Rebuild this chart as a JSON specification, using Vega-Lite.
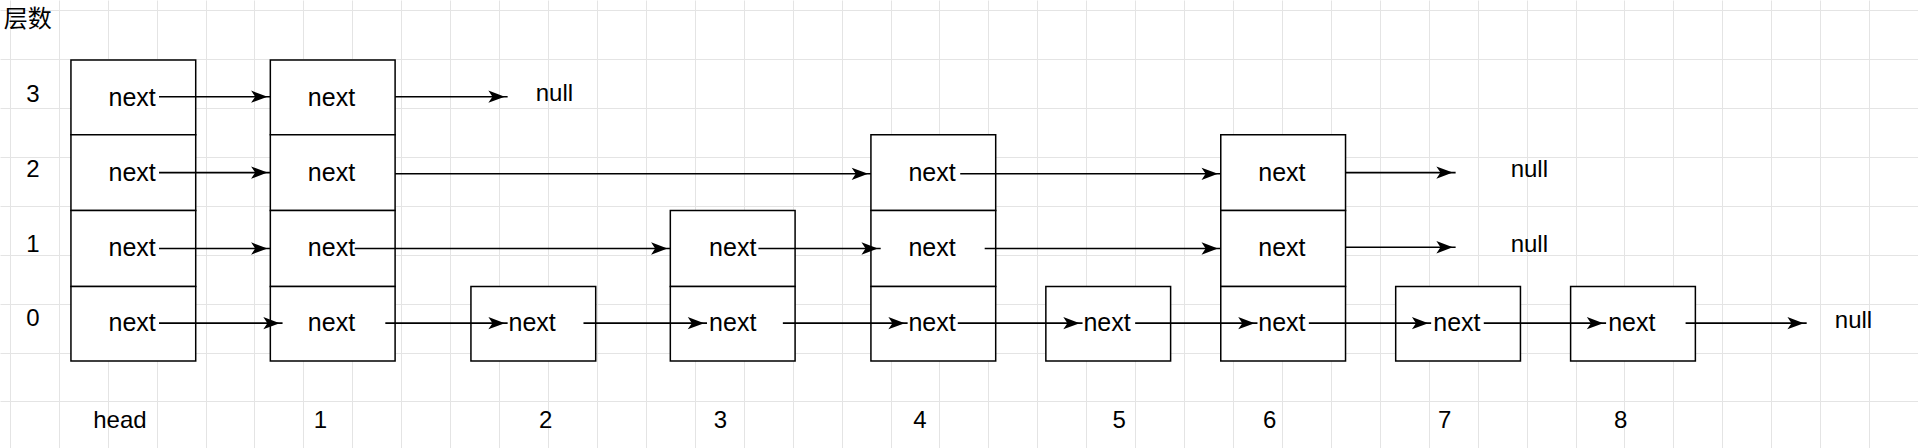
{
  "$schema": "https://vega.github.io/schema/vega-lite/v6.json",
  "width": 1918,
  "height": 448,
  "padding": 0,
  "autosize": {"type": "none"},
  "background": "white",
  "config": {"view": {"stroke": null}},
  "datasets": {
    "boxes": [
      {"x": 58, "x2": 160, "y": 49, "y2": 110, "cx": 108, "cy": 80},
      {"x": 58, "x2": 160, "y": 110, "y2": 172, "cx": 108, "cy": 141},
      {"x": 58, "x2": 160, "y": 172, "y2": 234, "cx": 108, "cy": 203},
      {"x": 58, "x2": 160, "y": 234, "y2": 295, "cx": 108, "cy": 264},
      {"x": 221, "x2": 323, "y": 49, "y2": 110, "cx": 271, "cy": 80},
      {"x": 221, "x2": 323, "y": 110, "y2": 172, "cx": 271, "cy": 141},
      {"x": 221, "x2": 323, "y": 172, "y2": 234, "cx": 271, "cy": 203},
      {"x": 221, "x2": 323, "y": 234, "y2": 295, "cx": 271, "cy": 264},
      {"x": 385, "x2": 487, "y": 234, "y2": 295, "cx": 435, "cy": 264},
      {"x": 548, "x2": 650, "y": 172, "y2": 234, "cx": 599, "cy": 203},
      {"x": 548, "x2": 650, "y": 234, "y2": 295, "cx": 599, "cy": 264},
      {"x": 712, "x2": 814, "y": 110, "y2": 172, "cx": 762, "cy": 141},
      {"x": 712, "x2": 814, "y": 172, "y2": 234, "cx": 762, "cy": 203},
      {"x": 712, "x2": 814, "y": 234, "y2": 295, "cx": 762, "cy": 264},
      {"x": 855, "x2": 957, "y": 234, "y2": 295, "cx": 905, "cy": 264},
      {"x": 998, "x2": 1100, "y": 110, "y2": 172, "cx": 1048, "cy": 141},
      {"x": 998, "x2": 1100, "y": 172, "y2": 234, "cx": 1048, "cy": 203},
      {"x": 998, "x2": 1100, "y": 234, "y2": 295, "cx": 1048, "cy": 264},
      {"x": 1141, "x2": 1243, "y": 234, "y2": 295, "cx": 1191, "cy": 264},
      {"x": 1284, "x2": 1386, "y": 234, "y2": 295, "cx": 1334, "cy": 264}
    ],
    "arrows": [
      {"x": 130, "x2": 221, "y": 79},
      {"x": 323, "x2": 415, "y": 79},
      {"x": 130, "x2": 221, "y": 141},
      {"x": 323, "x2": 712, "y": 142},
      {"x": 785, "x2": 998, "y": 142},
      {"x": 1100, "x2": 1190, "y": 141},
      {"x": 130, "x2": 221, "y": 203},
      {"x": 290, "x2": 548, "y": 203},
      {"x": 620, "x2": 720, "y": 203},
      {"x": 805, "x2": 998, "y": 203},
      {"x": 1100, "x2": 1190, "y": 202},
      {"x": 130, "x2": 231, "y": 264},
      {"x": 315, "x2": 415, "y": 264},
      {"x": 477, "x2": 578, "y": 264},
      {"x": 640, "x2": 742, "y": 264},
      {"x": 783, "x2": 885, "y": 264},
      {"x": 928, "x2": 1028, "y": 264},
      {"x": 1070, "x2": 1170, "y": 264},
      {"x": 1213, "x2": 1313, "y": 264},
      {"x": 1378, "x2": 1477, "y": 264}
    ],
    "leftLabels": [
      {"x": 3, "y": 16, "t": "层数"},
      {"x": 438, "y": 77, "t": "null"},
      {"x": 1235, "y": 139, "t": "null"},
      {"x": 1235, "y": 200, "t": "null"},
      {"x": 1500, "y": 262, "t": "null"}
    ],
    "centerLabels": [
      {"x": 27, "y": 78, "t": "3"},
      {"x": 27, "y": 139, "t": "2"},
      {"x": 27, "y": 200, "t": "1"},
      {"x": 27, "y": 261, "t": "0"},
      {"x": 98, "y": 344, "t": "head"},
      {"x": 262, "y": 344, "t": "1"},
      {"x": 446, "y": 344, "t": "2"},
      {"x": 589, "y": 344, "t": "3"},
      {"x": 752, "y": 344, "t": "4"},
      {"x": 915, "y": 344, "t": "5"},
      {"x": 1038, "y": 344, "t": "6"},
      {"x": 1181, "y": 344, "t": "7"},
      {"x": 1325, "y": 344, "t": "8"}
    ]
  },
  "layer": [
    {
      "data": {"name": "boxes"},
      "mark": {"type": "rect", "fill": "white", "stroke": "black", "strokeWidth": 1.5},
      "encoding": {
        "x": {"field": "x", "type": "quantitative", "title": null,
          "scale": {"domain": [0, 1568], "nice": false, "zero": false},
          "axis": {"orient": "top", "labels": false, "ticks": false, "domain": false, "gridColor": "#e4e4e4",
            "values": [8, 28, 48, 68, 88, 108, 128, 148, 168, 188, 208, 228, 248, 268, 288, 308, 328, 348, 368, 388, 408, 428, 448, 468, 488, 508, 528, 548, 568, 588, 608, 628, 648, 668, 688, 708, 728, 748, 768, 788, 808, 828, 848, 868, 888, 908, 928, 948, 968, 988, 1008, 1028, 1048, 1068, 1088, 1108, 1128, 1148, 1168, 1188, 1208, 1228, 1248, 1268, 1288, 1308, 1328, 1348, 1368, 1388, 1408, 1428, 1448, 1468, 1488, 1508, 1528, 1548]}},
        "x2": {"field": "x2"},
        "y": {"field": "y", "type": "quantitative", "title": null,
          "scale": {"domain": [0, 366], "reverse": true, "nice": false, "zero": false},
          "axis": {"labels": false, "ticks": false, "domain": false, "gridColor": "#e4e4e4",
            "values": [8, 28, 48, 68, 88, 108, 128, 148, 168, 188, 208, 228, 248, 268, 288, 308, 328, 348]}},
        "y2": {"field": "y2"}
      }
    },
    {
      "data": {"name": "boxes"},
      "mark": {"type": "text", "font": "Liberation Sans, Noto Sans CJK SC", "fontSize": 25, "color": "black"},
      "encoding": {
        "x": {"field": "cx", "type": "quantitative"},
        "y": {"field": "cy", "type": "quantitative"},
        "text": {"value": "next"}
      }
    },
    {
      "data": {"name": "arrows"},
      "mark": {"type": "rule", "color": "black", "strokeWidth": 1.6},
      "encoding": {
        "x": {"field": "x", "type": "quantitative"},
        "x2": {"field": "x2"},
        "y": {"field": "y", "type": "quantitative"}
      }
    },
    {
      "data": {"name": "arrows"},
      "mark": {"type": "point", "shape": "M-1,-0.6L0.6,0L-1,0.6L-0.6,0Z", "filled": true, "color": "black", "opacity": 1, "size": 420, "xOffset": -9},
      "encoding": {
        "x": {"field": "x2", "type": "quantitative"},
        "y": {"field": "y", "type": "quantitative"}
      }
    },
    {
      "data": {"name": "leftLabels"},
      "mark": {"type": "text", "align": "left", "font": "Liberation Sans, Noto Sans CJK SC", "fontSize": 24, "color": "black"},
      "encoding": {
        "x": {"field": "x", "type": "quantitative"},
        "y": {"field": "y", "type": "quantitative"},
        "text": {"field": "t"}
      }
    },
    {
      "data": {"name": "centerLabels"},
      "mark": {"type": "text", "align": "center", "font": "Liberation Sans, Noto Sans CJK SC", "fontSize": 24, "color": "black"},
      "encoding": {
        "x": {"field": "x", "type": "quantitative"},
        "y": {"field": "y", "type": "quantitative"},
        "text": {"field": "t"}
      }
    }
  ]
}
